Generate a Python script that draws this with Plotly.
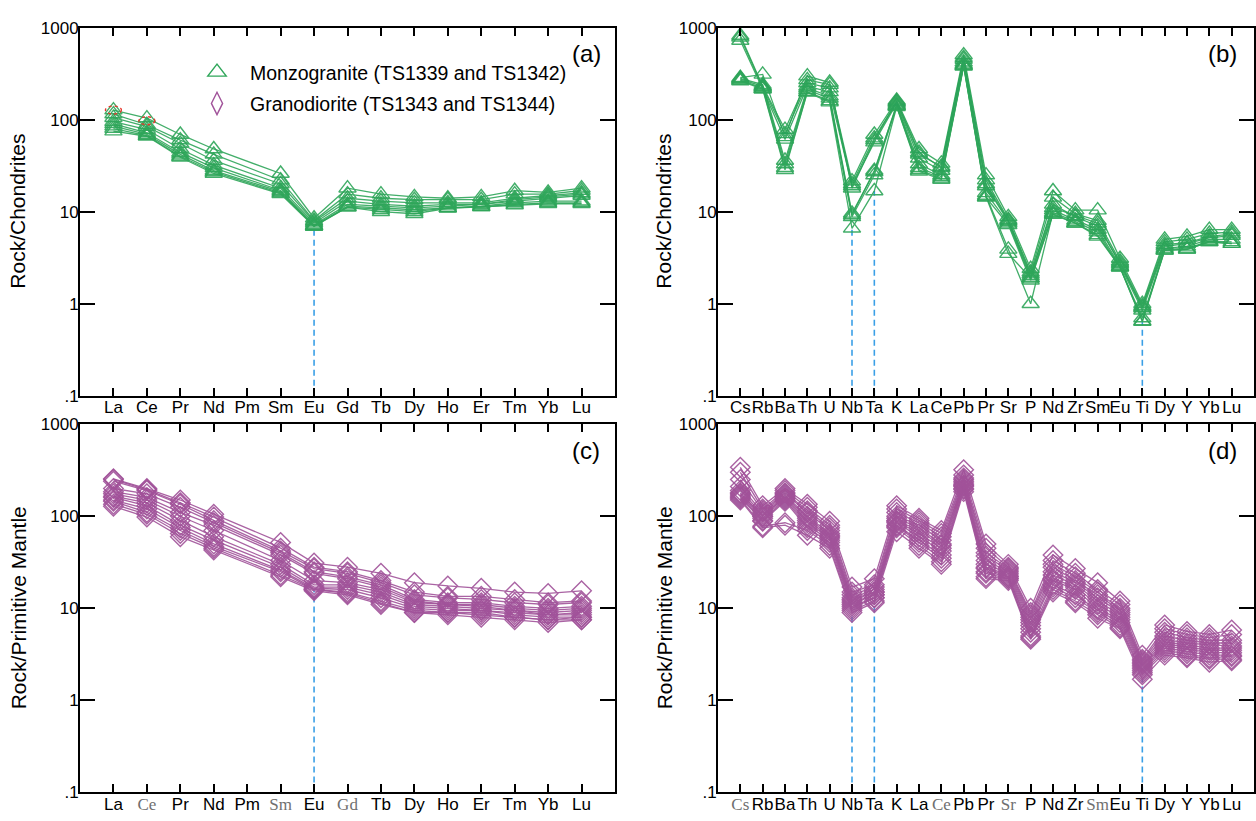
import plotly.graph_objects as go

W, H = 1256, 821

# ---------------- data ----------------
ree_elements = ["La", "Ce", "Pr", "Nd", "Pm", "Sm", "Eu", "Gd", "Tb", "Dy", "Ho", "Er", "Tm", "Yb", "Lu"]
ree_measured = ["La", "Ce", "Pr", "Nd", "Sm", "Eu", "Gd", "Tb", "Dy", "Ho", "Er", "Tm", "Yb", "Lu"]
spider_elements = ["Cs", "Rb", "Ba", "Th", "U", "Nb", "Ta", "K", "La", "Ce", "Pb", "Pr", "Sr", "P",
                   "Nd", "Zr", "Sm", "Eu", "Ti", "Dy", "Y", "Yb", "Lu"]

# (a) Monzogranite, chondrite-normalised REE
monzo_ree = [
    [127, 104, 69, 48, 26, 8.5, 18, 15.5, 14.5, 14, 14.5, 16.9, 16.2, 18],
    [115, 88, 60, 42, 22, 8.0, 15.5, 14, 13.5, 13.5, 13.5, 15.5, 15.5, 17],
    [105, 84, 55, 36, 20, 7.8, 14, 13, 12.5, 12.5, 12.5, 14, 15, 16],
    [95, 78, 48, 32, 18, 7.5, 13, 12, 11.5, 12, 12, 13.5, 14.5, 15.5],
    [90, 72, 44, 30, 17, 7.2, 12, 11.5, 11, 11.5, 12, 13, 14, 15],
    [85, 69, 42, 28, 16.5, 7.0, 11.5, 11, 10.5, 11, 11.5, 12.5, 13, 13],
    [80, 67, 40, 27, 16, 7.0, 11.2, 10.5, 10, 11, 11.3, 12, 12.5, 12.5],
    [75, 66, 39, 26, 15.6, 6.9, 11.2, 10, 9.5, 10.9, 11.3, 11.8, 12.2, 12.2],
]

# (b) Monzogranite, chondrite-normalised trace elements
monzo_spider = [
    [820, 230, 78, 270, 240, 21.5, 69, 162, 48, 33.5, 503, 25, 8.8, 2.4, 16.8, 10.4, 10.4, 3.1, 1.0, 5.0, 5.4, 6.4, 6.4],
    [785, 225, 70, 250, 220, 20, 63, 155, 42, 31, 470, 22, 8.2, 2.2, 14.3, 9.5, 8.0, 2.9, 0.95, 4.7, 5.0, 5.8, 6.0],
    [723, 215, 61, 230, 200, 19, 57, 150, 38, 28, 420, 19, 7.8, 2.0, 12, 8.8, 7.0, 2.8, 0.9, 4.4, 4.6, 5.4, 5.7],
    [286, 310, 65, 297, 253, 18, 60, 158, 44, 30, 450, 20, 8.0, 2.1, 11, 9.0, 7.5, 2.7, 0.92, 4.2, 4.5, 5.2, 5.5],
    [280, 240, 36, 220, 180, 9.6, 27, 145, 33, 25, 400, 16, 7.5, 1.9, 10.4, 8.1, 6.4, 2.6, 0.85, 4.0, 4.2, 5.0, 5.0],
    [275, 230, 33, 210, 170, 9.2, 28, 142, 30, 24, 390, 15, 3.9, 1.0, 9.8, 7.8, 6.0, 2.5, 0.65, 3.9, 4.0, 4.8, 4.7],
    [268, 220, 30, 200, 160, 8.8, 25, 140, 28.5, 23, 385, 14.5, 3.5, 1.9, 9.3, 7.5, 5.6, 2.5, 0.64, 3.8, 3.9, 4.7, 4.5],
    [263, 215, 28.5, 198, 155, 6.6, 16.8, 138, 27.5, 22.4, 379, 14.3, 7.2, 1.8, 9.5, 7.5, 5.4, 2.5, 0.7, 3.8, 3.9, 4.7, 4.5],
]

# (c) Granodiorite, primitive-mantle-normalised REE
grano_ree = [
    [255, 200, 150, 105, 52, 31, 28, 24, 19, 17.5, 16.5, 15, 14.5, 15.5],
    [250, 195, 140, 98, 45, 28, 25, 20, 15, 13.5, 13.5, 12.5, 11.5, 12],
    [240, 190, 135, 90, 42, 27, 24, 19, 14, 13, 12.5, 11.5, 11, 11.5],
    [200, 175, 125, 85, 40, 25, 22, 18, 12.5, 11.5, 11.5, 10.5, 10, 10.5],
    [185, 160, 110, 80, 38, 24, 21, 17, 12, 11, 11, 10, 9.5, 10],
    [175, 150, 100, 70, 33, 20, 19, 16, 11.5, 11, 10.5, 9.5, 9, 9.5],
    [165, 140, 90, 60, 30, 18, 18, 15, 11, 10.5, 10, 9.5, 8.5, 9],
    [160, 130, 80, 55, 28, 17, 17, 14, 10.5, 10, 9.5, 9, 8.5, 8.5],
    [150, 120, 75, 50, 26, 16.5, 16, 13, 10, 9.5, 9.5, 8.5, 8, 8],
    [145, 110, 70, 47, 25, 16, 15, 12, 9.5, 9, 9, 8, 7.5, 8],
    [135, 105, 65, 45, 23, 16, 14.5, 11.5, 9, 9, 8.5, 8, 7.5, 7.5],
    [128, 98, 60, 43, 22, 15.5, 14, 11, 9, 8.5, 8, 7.5, 7, 7.5],
]

# (d) Granodiorite, primitive-mantle-normalised trace elements
grano_spider = [
    [340, 130, 200, 135, 88, 17, 21, 130, 95, 70, 320, 50, 30, 10, 38, 27, 19, 12, 3.1, 6.6, 5.6, 5.2, 5.8],
    [300, 120, 190, 125, 80, 15, 18, 120, 90, 65, 280, 45, 28, 9, 33, 24, 16, 11, 2.8, 6.0, 5.2, 4.8, 5.2],
    [250, 115, 180, 115, 75, 14, 17, 110, 85, 60, 260, 40, 27, 8.5, 30, 22, 15, 10, 2.7, 5.5, 4.8, 4.5, 4.5],
    [210, 110, 175, 110, 70, 13, 16, 100, 80, 55, 250, 37, 26, 8, 28, 20, 14, 9.5, 2.6, 5.0, 4.5, 4.2, 4.2],
    [190, 105, 170, 100, 65, 12.5, 15, 95, 75, 50, 240, 33, 25, 7.5, 25, 19, 13, 9, 2.5, 4.6, 4.2, 4.0, 3.9],
    [180, 100, 165, 95, 62, 12, 15, 90, 70, 48, 230, 30, 24, 7, 23, 18, 12, 8.5, 2.4, 4.3, 4.0, 3.7, 3.7],
    [175, 100, 160, 90, 60, 11.5, 14, 88, 65, 45, 220, 28, 23, 6.5, 21, 17, 11, 8, 2.3, 4.1, 3.8, 3.5, 3.5],
    [170, 95, 155, 85, 58, 11, 14, 85, 60, 42, 215, 27, 22, 6, 20, 16, 10, 7.5, 2.2, 3.9, 3.6, 3.3, 3.3],
    [165, 90, 150, 80, 55, 10.5, 13, 80, 55, 38, 210, 25, 22, 5.5, 18, 14, 9.5, 7, 2.1, 3.7, 3.4, 3.1, 3.1],
    [160, 88, 145, 75, 52, 10, 13, 78, 52, 35, 200, 24, 21, 5, 17, 13, 9, 6.5, 2.0, 3.5, 3.2, 2.9, 3.0],
    [155, 78, 85, 70, 48, 9.5, 12, 75, 48, 32, 195, 22, 21, 4.8, 16, 12, 8.5, 6.2, 1.9, 3.3, 3.0, 2.8, 2.8],
    [150, 75, 80, 62, 45, 9, 11.5, 68, 45, 30, 185, 21, 20, 4.6, 15, 11.5, 7.8, 6, 1.7, 3.1, 2.9, 2.6, 2.7],
]

# anomaly markers (dashed lines) and highlighted points
anomalies_a = ["Eu"]
anomalies_b = ["Nb", "Ta", "Ti"]
anomalies_c = ["Eu"]
anomalies_d = ["Nb", "Ta", "Ti"]
highlight_a_sample = 1
highlight_a_elements = ["La", "Ce"]

legend_names = ["Monzogranite (TS1339 and TS1342)", "Granodiorite (TS1343 and TS1344)"]
serif_c = ["Ce", "Sm", "Gd"]
serif_d = ["Cs", "Ce", "Sr", "Sm"]

# ---------------- style ----------------
GREEN = "#2fa65a"
PURPLE = "#a1539a"
BLUE = "#3a9fe6"
SANS = "Liberation Sans, Arial, sans-serif"

fig = go.Figure()


def px_x(p):
    return p / W


def px_y(p):
    return 1 - p / H


panels = {
    "a": dict(xa="x", ya="y", xd=[px_x(80), px_x(615)], yd=[px_y(396), px_y(19)]),
    "b": dict(xa="x2", ya="y2", xd=[px_x(718), px_x(1254)], yd=[px_y(396), px_y(19)]),
    "c": dict(xa="x3", ya="y3", xd=[px_x(80), px_x(615)], yd=[px_y(802), px_y(425)]),
    "d": dict(xa="x4", ya="y4", xd=[px_x(718), px_x(1254)], yd=[px_y(802), px_y(425)]),
}


def add_anomaly_lines(key, elements, measured, data, anomalies):
    p = panels[key]
    for el in anomalies:
        j = measured.index(el)
        low = min(row[j] for row in data)
        xi = elements.index(el)
        fig.add_trace(go.Scatter(x=[xi, xi], y=[0.1, low], mode="lines",
                                 line=dict(color=BLUE, width=1.6, dash="6px,4px"),
                                 xaxis=p["xa"], yaxis=p["ya"], showlegend=False,
                                 hoverinfo="skip"))


def add_series(key, elements, measured, data, color, symbol, size):
    p = panels[key]
    xs = [elements.index(e) for e in measured]
    for row in data:
        fig.add_trace(go.Scatter(
            x=xs, y=row, mode="lines+markers",
            line=dict(color=color, width=1.3),
            marker=dict(symbol=symbol, size=size, color=color,
                        line=dict(color=color, width=1.4)),
            xaxis=p["xa"], yaxis=p["ya"], showlegend=False, opacity=0.9))


add_anomaly_lines("a", ree_elements, ree_measured, monzo_ree, anomalies_a)
add_anomaly_lines("b", spider_elements, spider_elements, monzo_spider, anomalies_b)
add_anomaly_lines("c", ree_elements, ree_measured, grano_ree, anomalies_c)
add_anomaly_lines("d", spider_elements, spider_elements, grano_spider, anomalies_d)

add_series("a", ree_elements, ree_measured, monzo_ree, GREEN, "triangle-up-open", 15)
add_series("b", spider_elements, spider_elements, monzo_spider, GREEN, "triangle-up-open", 15)
add_series("c", ree_elements, ree_measured, grano_ree, PURPLE, "diamond-open", 15)
add_series("d", spider_elements, spider_elements, grano_spider, PURPLE, "diamond-open", 15)

# legend entries (two separate legends for precise placement)
fig.add_trace(go.Scatter(x=[None], y=[None], mode="markers", name=legend_names[0],
                         marker=dict(symbol="triangle-up-open", size=16, color=GREEN,
                                     line=dict(color=GREEN, width=1.4)),
                         legend="legend", xaxis="x", yaxis="y"))
fig.add_trace(go.Scatter(x=[None], y=[None], mode="markers", name=legend_names[1],
                         marker=dict(symbol="diamond-tall-open", size=16, color=PURPLE,
                                     line=dict(color=PURPLE, width=1.4)),
                         legend="legend2", xaxis="x", yaxis="y"))

# red dotted circles on highlighted points
for el in highlight_a_elements:
    j = ree_measured.index(el)
    fig.add_shape(type="circle", xref="x", yref="y",
                  xsizemode="pixel", ysizemode="pixel",
                  xanchor=ree_elements.index(el), yanchor=monzo_ree[highlight_a_sample][j],
                  x0=-8, x1=8, y0=-8, y1=8,
                  line=dict(color="#e8372c", width=1.4, dash="dot"))


def tick_text(elements, serif):
    out = []
    for e in elements:
        if e in serif:
            out.append('<span style="font-family:Liberation Serif, Times New Roman, serif;color:#6f6f6f">%s</span>' % e)
        else:
            out.append(e)
    return out


axis_common = dict(showline=True, linecolor="black", linewidth=2, mirror="allticks",
                   showgrid=False, zeroline=False, ticks="inside", tickcolor="black")

minor_vals = [m * 10 ** k for k in range(-1, 3) for m in range(2, 10)]

layout_axes = {}
for i, key in enumerate(["a", "b", "c", "d"]):
    p = panels[key]
    suffix = "" if i == 0 else str(i + 1)
    is_ree = key in ("a", "c")
    elements = ree_elements if is_ree else spider_elements
    serif = serif_c if key == "c" else (serif_d if key == "d" else [])
    layout_axes["xaxis" + suffix] = dict(
        axis_common, domain=p["xd"], anchor="y" + suffix,
        range=[-1, len(elements)], tickmode="array",
        tickvals=list(range(len(elements))), ticktext=tick_text(elements, serif),
        ticklen=8, tickwidth=2, tickangle=0, ticklabelstandoff=-5,
        tickfont=dict(family=SANS, size=17, color="black"))
    layout_axes["yaxis" + suffix] = dict(
        axis_common, domain=p["yd"], anchor="x" + suffix, type="log",
        range=[-1, 3], tickmode="linear", tick0=0, dtick=1,
        labelalias={"0.1": ".1"},
        ticklen=15, tickwidth=2, ticklabelstandoff=-4,
        tickfont=dict(family=SANS, size=17, color="black"))
    # overlay axis carrying the minor (2..9) log ticks on both sides
    layout_axes["yaxis" + str(5 + i)] = dict(
        overlaying="y" + suffix, anchor="x" + suffix, side="left", type="log",
        range=[-1, 3], tickmode="array", tickvals=minor_vals, showticklabels=False,
        ticks="inside", ticklen=8, tickwidth=1.8, tickcolor="black",
        showline=True, linecolor="black", linewidth=2, mirror="allticks",
        showgrid=False, zeroline=False)

annotations = []
ytitles = [("Rock/Chondrites", 18, (19 + 396) / 2), ("Rock/Chondrites", 664, (19 + 396) / 2),
           ("Rock/Primitive Mantle", 18, (425 + 802) / 2), ("Rock/Primitive Mantle", 664, (425 + 802) / 2)]
for text, x, y in ytitles:
    annotations.append(dict(text=text, x=px_x(x), y=px_y(y), xref="paper", yref="paper",
                            textangle=-90, showarrow=False, xanchor="center", yanchor="middle",
                            font=dict(family=SANS, size=21, color="black")))
labels = [("(a)", 586, 46), ("(b)", 1222, 46), ("(c)", 586, 452), ("(d)", 1222, 452)]
for text, x, y in labels:
    annotations.append(dict(text=text, x=px_x(x), y=px_y(y), xref="paper", yref="paper",
                            showarrow=False, xanchor="center", yanchor="middle",
                            font=dict(family=SANS, size=24, color="black")))

legend_common = dict(xanchor="left", yanchor="middle", bgcolor="rgba(0,0,0,0)",
                     font=dict(family=SANS, size=19.5, color="black"), borderwidth=0,
                     itemsizing="trace", itemwidth=56)

fig.update_layout(
    width=W, height=H, autosize=False,
    margin=dict(l=0, r=0, t=0, b=0),
    paper_bgcolor="white", plot_bgcolor="white",
    annotations=annotations,
    legend=dict(legend_common, x=px_x(184), y=px_y(65)),
    legend2=dict(legend_common, x=px_x(184), y=px_y(97)),
    **layout_axes,
)

fig.write_html("out.html", config={"displayModeBar": False},
               post_script="document.body.style.margin='0px';")
